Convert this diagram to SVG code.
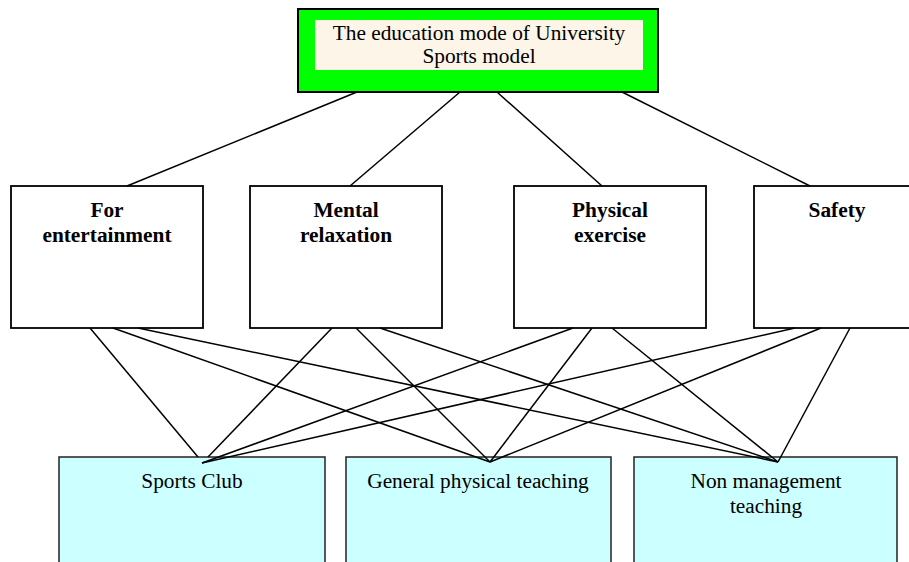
<svg xmlns="http://www.w3.org/2000/svg" width="909" height="562" viewBox="0 0 909 562">
<style>
.mid{fill:#ffffff;stroke:#000;stroke-width:1.8}
.bot{fill:#ccffff;stroke:#222;stroke-width:1.5}
.t{font-family:"Liberation Serif","Times New Roman",serif;font-size:21.33px;fill:#000;text-anchor:middle}
.b{font-weight:bold}
#connectors line{stroke:#000;stroke-width:1.5}
</style>
<rect width="909" height="562" fill="#fff"/>
<g id="root">
<rect x="298" y="9" width="360" height="83" fill="#00ff00" stroke="#000" stroke-width="2"/>
<rect x="315" y="20" width="328" height="50" fill="#fdf5e8"/>
<text class="t" x="479" y="40">The education mode of University</text>
<text class="t" x="479" y="63">Sports model</text>
</g>
<g id="n-entertainment">
<rect class="mid" x="11" y="186" width="192" height="142"/>
<text class="t b" x="107" y="217">For</text>
<text class="t b" x="107" y="242">entertainment</text>
</g>
<g id="n-mental">
<rect class="mid" x="250" y="186" width="192" height="142"/>
<text class="t b" x="346" y="217">Mental</text>
<text class="t b" x="346" y="242">relaxation</text>
</g>
<g id="n-physical">
<rect class="mid" x="514" y="186" width="192" height="142"/>
<text class="t b" x="610" y="217">Physical</text>
<text class="t b" x="610" y="242">exercise</text>
</g>
<g id="n-safety">
<rect class="mid" x="754" y="186" width="166" height="142"/>
<text class="t b" x="837" y="217">Safety</text>
</g>
<g id="n-club">
<rect class="bot" x="59" y="457" width="266" height="120"/>
<text class="t" x="192" y="488">Sports Club</text>
</g>
<g id="n-general">
<rect class="bot" x="346" y="457" width="265" height="120"/>
<text class="t" x="478" y="488">General physical teaching</text>
</g>
<g id="n-nonmgmt">
<rect class="bot" x="634" y="457" width="263" height="120"/>
<text class="t" x="766" y="488">Non management</text>
<text class="t" x="766" y="513">teaching</text>
</g>
<g id="connectors">
<line x1="357" y1="92" x2="127" y2="186"/>
<line x1="460" y1="92" x2="350" y2="186"/>
<line x1="497" y1="92" x2="602" y2="186"/>
<line x1="622" y1="92" x2="810" y2="186"/>
<line x1="90" y1="328" x2="198" y2="457"/>
<line x1="113" y1="328" x2="490" y2="462"/>
<line x1="138" y1="328" x2="778" y2="462"/>
<line x1="332" y1="328" x2="208" y2="457"/>
<line x1="356" y1="328" x2="490" y2="462"/>
<line x1="380" y1="328" x2="778" y2="462"/>
<line x1="573" y1="328" x2="202" y2="463"/>
<line x1="592" y1="328" x2="490" y2="462"/>
<line x1="612" y1="328" x2="778" y2="462"/>
<line x1="795" y1="328" x2="202" y2="463"/>
<line x1="821" y1="328" x2="490" y2="462"/>
<line x1="850" y1="328" x2="778" y2="462"/>
</g>
</svg>
